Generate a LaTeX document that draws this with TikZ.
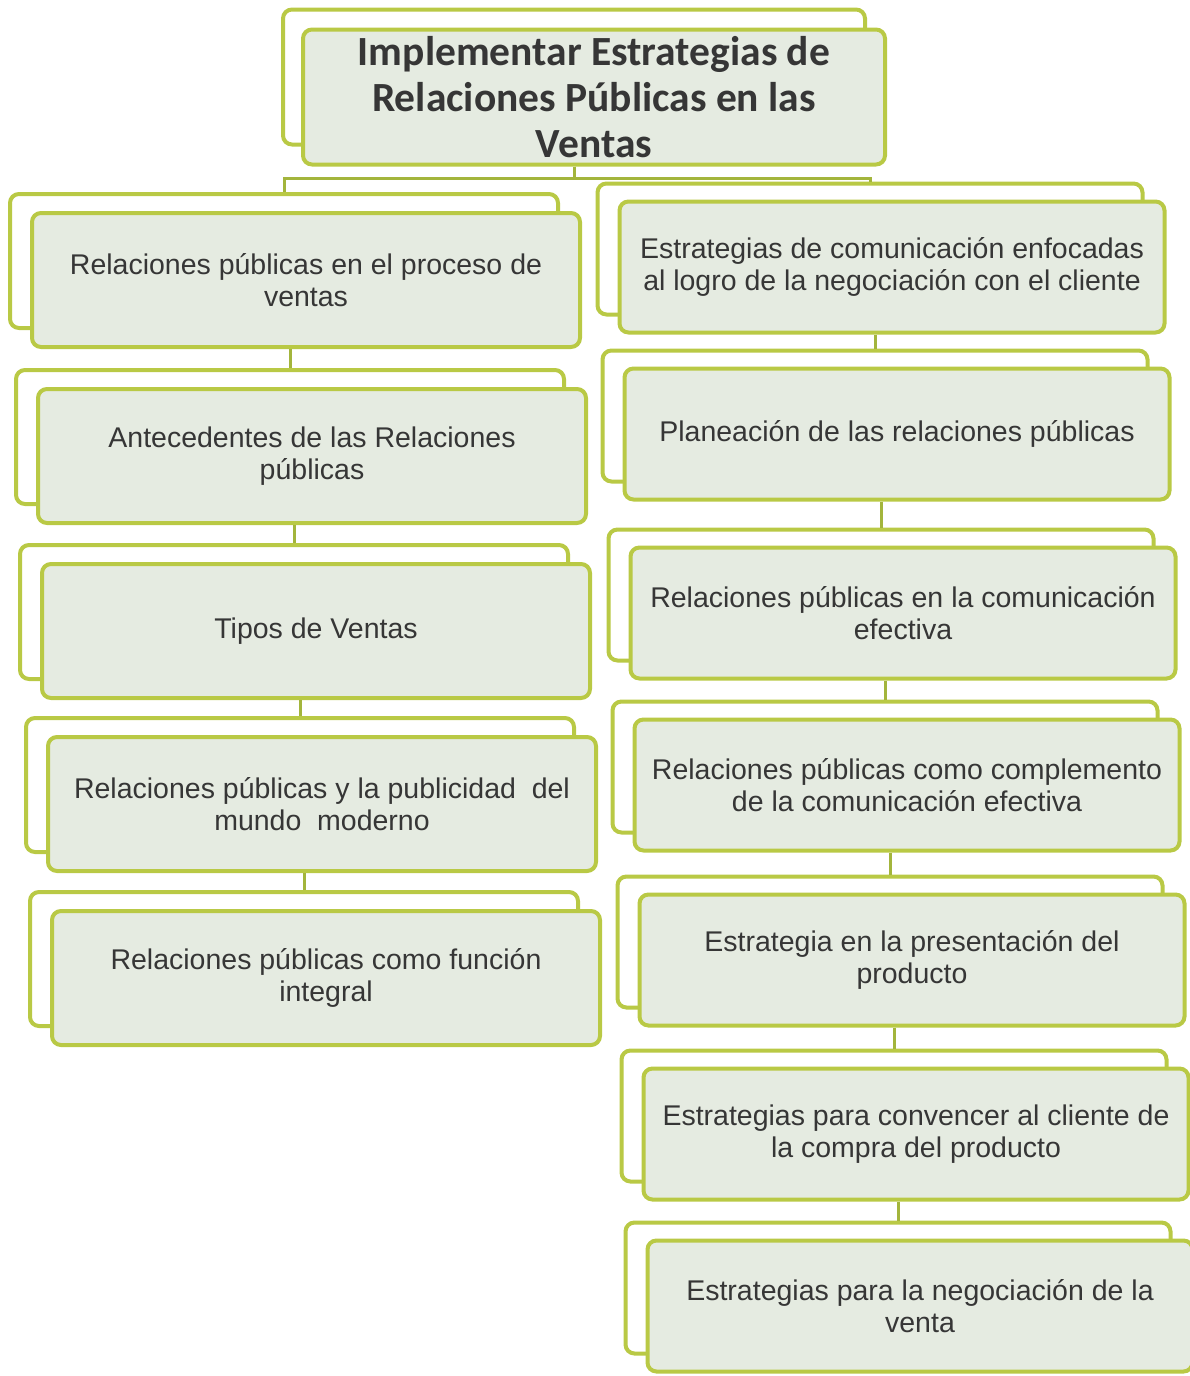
\documentclass[tikz,border=0pt]{standalone}
\usepackage{fontspec}
\setmainfont{Liberation Sans}
\newfontfamily\titlefont{Carlito}
\definecolor{rpborde}{HTML}{B9C945}
\definecolor{rplinea}{HTML}{A3B53C}
\definecolor{rpfondo}{HTML}{E5EBE1}
\definecolor{rptexto}{HTML}{363636}
\begin{document}
\begin{tikzpicture}[x=1pt,y=-1pt,
back/.style ={rectangle, draw=rpborde, line width=4pt, fill=white,
  rounded corners=9pt, inner sep=0pt
},
front/.style ={back, fill=rpfondo, text=rptexto, align=center,
  font=\fontsize{28.5}{32}\selectfont
},
leftbox/.style ={minimum width=548pt, minimum height=134pt},
rightbox/.style ={minimum width=545pt, minimum height=131pt},
titlebox/.style ={minimum width=582pt, minimum height=135pt,
  font=\titlefont\bfseries\fontsize{41.5}{46}\selectfont
},
link/.style ={draw=rplinea, line width=3pt}]
\useasboundingbox (0,0) rectangle (1190,1376);
% titulo
\node (tb) at (574,77) [back,titlebox] {};
\node (t) at (594,97) [front,titlebox] {Implementar Estrategias de\\Relaciones Públicas en las\\Ventas};
% columna izquierda
\node (l1b) at (284,261) [back,leftbox] {};
\node (l1) at (306,280) [front,leftbox] {Relaciones públicas en el proceso de\\ventas};
\node (l2b) at (290,437) [back,leftbox] {};
\node (l2) at (312,456) [front,leftbox] {Antecedentes de las Relaciones\\públicas};
\node (l3b) at (294,612) [back,leftbox] {};
\node (l3) at (316,631) [front,leftbox] {Tipos de Ventas};
\node (l4b) at (300,785) [back,leftbox] {};
\node (l4) at (322,804) [front,leftbox] {Relaciones públicas y la publicidad\ \ del\\mundo\ \ moderno};
\node (l5b) at (304,959) [back,leftbox] {};
\node (l5) at (326,978) [front,leftbox] {Relaciones públicas como función\\integral};
% columna derecha
\node (r1b) at (870,249) [back,rightbox] {};
\node (r1) at (892,267) [front,rightbox] {Estrategias de comunicación enfocadas\\al logro de la negociación con el cliente};
\node (r2b) at (875,416) [back,rightbox] {};
\node (r2) at (897,434) [front,rightbox] {Planeación de las relaciones públicas};
\node (r3b) at (881,595) [back,rightbox] {};
\node (r3) at (903,613) [front,rightbox] {Relaciones públicas en la comunicación\\efectiva};
\node (r4b) at (885,767) [back,rightbox] {};
\node (r4) at (907,785) [front,rightbox] {Relaciones públicas como complemento\\de la comunicación efectiva};
\node (r5b) at (890,942) [back,rightbox] {};
\node (r5) at (912,960) [front,rightbox] {Estrategia en la presentación del\\producto};
\node (r6b) at (894,1116) [back,rightbox] {};
\node (r6) at (916,1134) [front,rightbox] {Estrategias para convencer al cliente de\\la compra del producto};
\node (r7b) at (898,1288) [back,rightbox] {};
\node (r7) at (920,1306) [front,rightbox] {Estrategias para la negociación de la\\venta};
% conectores
\draw[link] (t.south -| tb.south) -- ++(0,12) -| (l1b.north);
\draw[link] (t.south -| tb.south) -- ++(0,12) -| (r1b.north);
\draw[link] (l1.south -| l2b.north) -- (l2b.north);
\draw[link] (l2.south -| l3b.north) -- (l3b.north);
\draw[link] (l3.south -| l4b.north) -- (l4b.north);
\draw[link] (l4.south -| l5b.north) -- (l5b.north);
\draw[link] (r1.south -| r2b.north) -- (r2b.north);
\draw[link] (r2.south -| r3b.north) -- (r3b.north);
\draw[link] (r3.south -| r4b.north) -- (r4b.north);
\draw[link] (r4.south -| r5b.north) -- (r5b.north);
\draw[link] (r5.south -| r6b.north) -- (r6b.north);
\draw[link] (r6.south -| r7b.north) -- (r7b.north);
\end{tikzpicture}
\end{document}
